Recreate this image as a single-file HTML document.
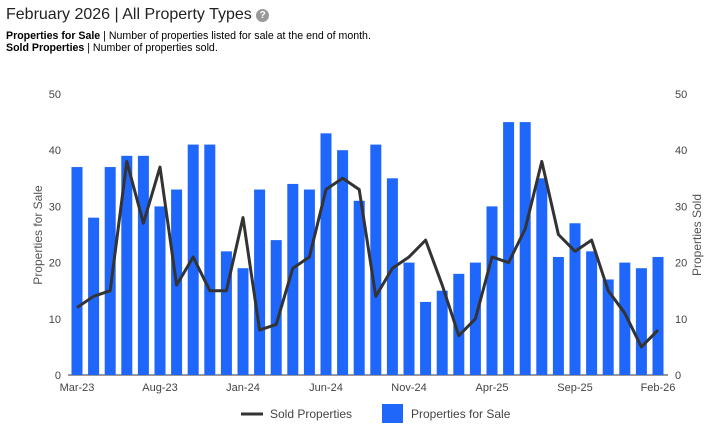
<!DOCTYPE html>
<html><head><meta charset="utf-8"><style>
body{margin:0;width:721px;height:444px;background:#fff;font-family:"Liberation Sans",Arial,sans-serif;overflow:hidden;position:relative}
.t{position:absolute;left:6px;top:6px;font-size:16px;color:#222}
.q{display:inline-block;width:13px;height:13px;border-radius:50%;background:#999;color:#fff;font-size:10px;text-align:center;line-height:13px;font-weight:bold;vertical-align:1px}
.d{position:absolute;left:6px;font-size:10.6px;color:#000}
</style></head><body>
<div class="t">February 2026 | All Property Types <span class="q">?</span></div>
<div class="d" style="top:30px"><b>Properties for Sale</b> | Number of properties listed for sale at the end of month.</div>
<div class="d" style="top:42px"><b>Sold Properties</b> | Number of properties sold.</div>
<svg id="c" width="721" height="444" style="position:absolute;left:0;top:0"></svg>
<script>
const categories=["Mar-23","Apr-23","May-23","Jun-23","Jul-23","Aug-23","Sep-23","Oct-23","Nov-23","Dec-23","Jan-24","Feb-24","Mar-24","Apr-24","May-24","Jun-24","Jul-24","Aug-24","Sep-24","Oct-24","Nov-24","Dec-24","Jan-25","Feb-25","Mar-25","Apr-25","May-25","Jun-25","Jul-25","Aug-25","Sep-25","Oct-25","Nov-25","Dec-25","Jan-26","Feb-26"];
const forSale=[37,28,37,39,39,30,33,41,41,22,19,33,24,34,33,43,40,31,41,35,20,13,15,18,20,30,45,45,35,21,27,22,17,20,19,21];
const sold=[12,14,15,38,27,37,16,21,15,15,28,8,9,19,21,33,35,33,14,19,21,24,16,7,10,21,20,26,38,25,22,24,15,11,5,8];
const yTicks=[0,10,20,30,40,50];
const xLabels=["Mar-23","Aug-23","Jan-24","Jun-24","Nov-24","Apr-25","Sep-25","Feb-26"];
const ns="http://www.w3.org/2000/svg",svg=document.getElementById('c');
const x0=77,dx=16.6,yb=375,ppu=5.62;
const X=i=>x0+i*dx, Y=v=>yb-v*ppu;
function mk(t,a,txt){const e=document.createElementNS(ns,t);for(const k in a)e.setAttribute(k,a[k]);if(txt!=null)e.textContent=txt;svg.appendChild(e);return e;}
yTicks.forEach(v=>{
 const l=mk('text',{x:61,y:Y(v)+4,'text-anchor':'end','font-size':11,fill:'#444'},v);
 
 
 const r=mk('text',{x:675,y:Y(v)+4,'font-size':11,fill:'#444'},v);
 
 
});
mk('line',{x1:68,x2:668,y1:yb,y2:yb,stroke:'#333','stroke-width':1});
forSale.forEach((v,i)=>{
 const b=mk('rect',{x:X(i)-5.5,y:Y(v),width:11,height:v*ppu,fill:'#1f66fb'});
 
 
});
const p=mk('polyline',{points:sold.map((v,i)=>X(i)+','+Y(v)).join(' '),fill:'none',stroke:'#333','stroke-width':3,'stroke-linejoin':'round'});


xLabels.forEach(s=>{
 const i=categories.indexOf(s);
 const t=mk('text',{x:X(i),y:391,'text-anchor':'middle','font-size':11,fill:'#444'},s);
 
 
});
let a=mk('text',{x:0,y:0,transform:'translate(42,235) rotate(-90)','text-anchor':'middle','font-size':12,fill:'#555'},'Properties for Sale');


a=mk('text',{x:0,y:0,transform:'translate(701,235) rotate(-90)','text-anchor':'middle','font-size':12,fill:'#555'},'Properties Sold');


let g=mk('line',{x1:241,x2:263,y1:414,y2:414,stroke:'#333','stroke-width':3});


g=mk('text',{x:270,y:418,'font-size':12,fill:'#444'},'Sold Properties');


g=mk('rect',{x:382,y:404,width:21,height:19,fill:'#1f66fb'});


g=mk('text',{x:411,y:418,'font-size':12,fill:'#444'},'Properties for Sale');


</script>
</body></html>
